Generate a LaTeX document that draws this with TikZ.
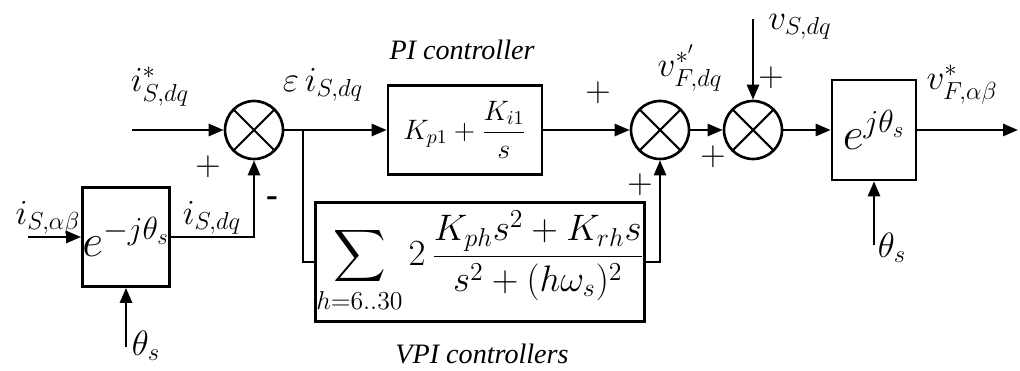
\documentclass[tikz,border=0pt]{standalone}
\usepackage{fix-cm}
\usepackage{amsmath}
\usepackage{fontspec}
\setmainfont{Liberation Serif}
\usetikzlibrary{arrows.meta}

\begin{document}
\begin{tikzpicture}[
	x=0.02cm, y=-0.02cm,
	% Define the styles for blocks, junctions, wires and labels
	block/.style={draw, line width=1.5pt, inner sep=0pt},
	sumnode/.style={circle, draw, line width=1.5pt, minimum size=1.16cm, inner sep=0pt,
		path picture={\draw[line width=1.2pt]
			(path picture bounding box.north west) -- (path picture bounding box.south east)
			(path picture bounding box.north east) -- (path picture bounding box.south west);}},
	lbl/.style={inner sep=0pt, font=\fontsize{20}{22}\selectfont},
	sgn/.style={inner sep=0pt, font=\fontsize{20}{22}\selectfont},
	wire/.style={line width=1.5pt},
	arr/.style={wire, -{Triangle[length=0.3cm, width=0.24cm]}}
	]
	\useasboundingbox (0,0) rectangle (1020,371);
	
	% --- BLOCKS ---
	% Format: \node[style] (name) at (x,y) {content};
	
	\node[block, minimum width=1.7cm, minimum height=1.98cm, font=\fontsize{26}{28}\selectfont] (park) at (126,237) {$e^{-j\theta_s}$};
	\node[sumnode] (sum1) at (254,130) {};
	\node[block, minimum width=3.08cm, minimum height=1.78cm, font=\fontsize{16}{18}\selectfont] (pi) at (465,130) {$K_{p1}+\dfrac{K_{i1}}{s}$};
	\node[block, minimum width=6.58cm, minimum height=2.38cm, font=\fontsize{21}{24}\selectfont] (vpi) at (480,262) {$\displaystyle\sum_{h=6..30} 2\,\frac{K_{ph}s^2+K_{rh}s}{s^2+(h\omega_s)^2}$};
	\node[sumnode] (sum2) at (660,130) {};
	\node[sumnode] (sum3) at (753,130) {};
	\node[block, minimum width=1.68cm, minimum height=2cm, font=\fontsize{26}{28}\selectfont] (ipark) at (874,130) {$e^{j\theta_s}$};
	
	% --- FREE ENDS ---
	\coordinate (istar) at (132,130);
	\coordinate (ialbe) at (28,237);
	\coordinate (th1) at (126,347);
	\coordinate (split) at (303,130);
	\coordinate (vs) at (753,19);
	\coordinate (th2) at (874,245);
	\coordinate (vout) at (1018,130);
	
	% --- CONNECTORS ---
	\draw[arr] (istar) -- (sum1.west);
	\draw[arr] (ialbe) -- (park.west);
	\draw[arr] (park.east) -| (sum1.south);
	\draw[arr] (th1) -- (park.south);
	\draw[arr] (sum1.east) -- (pi.west);
	\draw[wire] (split) |- (vpi.west);
	\draw[arr] (pi.east) -- (sum2.west);
	\draw[arr] (vpi.east) -| (sum2.south);
	\draw[arr] (sum2.east) -- (sum3.west);
	\draw[arr] (vs) -- (sum3.north);
	\draw[arr] (sum3.east) -- (ipark.west);
	\draw[arr] (ipark.east) -- (vout);
	\draw[arr] (th2) -- (ipark.south);
	
	% --- LABELS ---
	\node[lbl] (l_istar) at (160,87) {$i^{*}_{S,dq}$};
	\node[lbl] (l_ialbe) at (48,218) {$i_{S,\alpha\beta}$};
	\node[lbl] (l_isdq) at (212,218) {$i_{S,dq}$};
	\node[lbl] (l_th1) at (146,346) {$\theta_s$};
	\node[lbl] (l_err) at (323,85) {$\varepsilon\, i_{S,dq}$};
	\node[lbl, font=\fontsize{16}{18}\selectfont\itshape] (l_pi) at (462,50) {PI controller};
	\node[lbl, font=\fontsize{16}{18}\selectfont\itshape] (l_vpi) at (482,354) {VPI controllers};
	\node[lbl] (l_vf) at (690,68) {$v^{*'}_{F,dq}$};
	\node[lbl] (l_vs) at (800,27) {$v_{S,dq}$};
	\node[lbl] (l_vfab) at (962,85) {$v^{*}_{F,\alpha\beta}$};
	\node[lbl] (l_th2) at (892,248) {$\theta_s$};
	
	% --- SIGNS ---
	\node[sgn] (s1) at (208,167) {$+$};
	\node[sgn] (s2) at (272,202) {\textbf{-}};
	\node[sgn] (s3) at (598,93) {$+$};
	\node[sgn] (s4) at (640,185) {$+$};
	\node[sgn] (s5) at (713,157) {$+$};
	\node[sgn] (s6) at (771,78) {$+$};
	
\end{tikzpicture}
\end{document}
